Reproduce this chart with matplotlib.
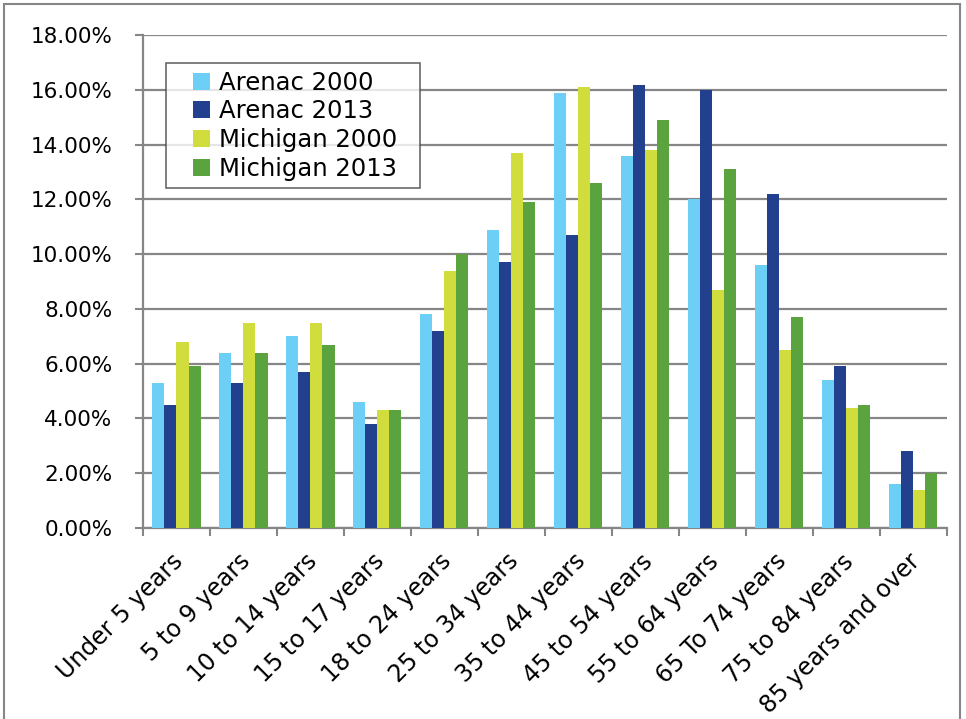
import matplotlib
matplotlib.use("Agg")
import matplotlib.pyplot as plt
import numpy as np
from matplotlib.patches import Rectangle
from matplotlib.container import BarContainer
from matplotlib.legend_handler import HandlerPatch, update_from_first_child
from matplotlib.ticker import FuncFormatter

categories = ["Under 5 years", "5 to 9 years", "10 to 14 years", "15 to 17 years",
              "18 to 24 years", "25 to 34 years", "35 to 44 years", "45 to 54 years",
              "55 to 64 years", "65 To 74 years", "75 to 84 years", "85 years and over"]
series_names = ["Arenac 2000", "Arenac 2013", "Michigan 2000", "Michigan 2013"]
arenac_2000 = [5.3, 6.4, 7.0, 4.6, 7.8, 10.9, 15.9, 13.6, 12.0, 9.6, 5.4, 1.6]
arenac_2013 = [4.5, 5.3, 5.7, 3.8, 7.2, 9.7, 10.7, 16.2, 16.0, 12.2, 5.9, 2.8]
michigan_2000 = [6.8, 7.5, 7.5, 4.3, 9.4, 13.7, 16.1, 13.8, 8.7, 6.5, 4.4, 1.4]
michigan_2013 = [5.9, 6.4, 6.7, 4.3, 10.0, 11.9, 12.6, 14.9, 13.1, 7.7, 4.5, 2.0]
colors = ["#6DCFF6", "#23408E", "#D0DD3D", "#5BA33F"]

plt.rcParams['font.family'] = ['DejaVu Sans']

fig = plt.figure(figsize=(9.66, 7.19), dpi=100)
ax = fig.add_axes([0.148, 0.2657, 0.832, 0.6853])

x = np.arange(len(categories))
w = 0.18
all_series = [arenac_2000, arenac_2013, michigan_2000, michigan_2013]
for i, (vals, name, c) in enumerate(zip(all_series, series_names, colors)):
    ax.bar(x + (i - 1.5) * w, vals, width=w, color=c, label=name + "  ", zorder=3)

ax.set_xlim(-0.5, len(categories) - 0.5)
ax.set_ylim(0, 18)
ax.set_yticks(np.arange(0, 18.1, 2))
ax.yaxis.set_major_formatter(FuncFormatter(lambda v, p: f"{v:.2f}%"))
ax.grid(axis='y', color='#868686', linewidth=1.6, zorder=0)
ax.set_axisbelow(True)

ax.set_xticks(np.arange(-0.5, len(categories), 1))
ax.set_xticklabels([])
ax.set_xticks(x, minor=True)
ax.set_xticklabels([c + " " for c in categories], minor=True, rotation=45, ha='right',
                   rotation_mode='anchor', fontsize=17)
ax.tick_params(axis='x', which='minor', length=0, pad=11.5)
ax.tick_params(axis='x', which='major', length=6, width=1.5, color='#868686')
ax.tick_params(axis='y', length=6, width=1.5, color='#868686', labelsize=15.5, pad=16)

for s in ['top', 'right']:
    ax.spines[s].set_visible(False)
for s in ['left', 'bottom']:
    ax.spines[s].set_color('#868686')
    ax.spines[s].set_linewidth(1.6)


def square_patch(legend, orig_handle, xdescent, ydescent, width, height, fontsize):
    side = 0.7 * fontsize
    return Rectangle((width - side - xdescent, (height - side) / 2 - ydescent), side, side)


leg = ax.legend(loc='upper left', bbox_to_anchor=(0.0286, 0.943), fontsize=17.5,
                frameon=True, fancybox=False, edgecolor='#444444',
                handlelength=1.5, handleheight=0.7, handletextpad=0.4,
                labelspacing=0.2, borderpad=0.3, borderaxespad=0,
                handler_map={BarContainer: HandlerPatch(patch_func=square_patch,
                                                        update_func=update_from_first_child)})
leg.get_frame().set_linewidth(1.2)

fig.patches.append(Rectangle((0.004, -0.02), 0.99, 1.0144, transform=fig.transFigure,
                             fill=False, edgecolor='#868686', linewidth=1.5))

fig.savefig("out.png", dpi=100)
